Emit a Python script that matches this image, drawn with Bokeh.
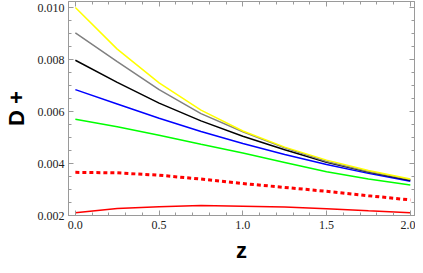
from bokeh.plotting import figure
from bokeh.models import Range1d, FixedTicker, LinearAxis, NumeralTickFormatter
from bokeh.embed import file_html
from bokeh.resources import INLINE

# ---- data ----
z = [0.0, 0.25, 0.5, 0.75, 1.0, 1.25, 1.5, 1.75, 2.0]
d_yellow = [0.01000, 0.00840, 0.00710, 0.00605, 0.00525, 0.00463, 0.00413, 0.00373, 0.00340]
d_gray = [0.00902, 0.00792, 0.00684, 0.00592, 0.00522, 0.00460, 0.00408, 0.00369, 0.00338]
d_black = [0.00797, 0.00712, 0.00632, 0.00564, 0.00505, 0.00453, 0.00405, 0.00367, 0.00336]
d_blue = [0.00684, 0.00629, 0.00574, 0.00523, 0.00477, 0.00435, 0.00396, 0.00362, 0.00332]
d_green = [0.00570, 0.00541, 0.00509, 0.00474, 0.00440, 0.00404, 0.00368, 0.00340, 0.00317]
d_red_dashed = [0.00366, 0.00364, 0.00355, 0.00340, 0.00323, 0.00308, 0.00293, 0.00276, 0.00260]
d_red = [0.00211, 0.00227, 0.00234, 0.00238, 0.00236, 0.00233, 0.00226, 0.00218, 0.00211]

x_major_ticks = [0.0, 0.5, 1.0, 1.5, 2.0]
x_minor_ticks = [round(0.1 * i, 1) for i in range(0, 21)]
y_major_ticks = [0.002, 0.004, 0.006, 0.008, 0.010]
y_minor_ticks = [round(0.002 + 0.0005 * i, 4) for i in range(0, 18)]

x_label = "z"
y_label = "D +"

FRAME = "#9a9a9a"
TICKFONT = "Liberation Serif"

p = figure(width=415, height=265, output_backend="svg", toolbar_location=None,
           x_range=Range1d(-0.041, 2.025), y_range=Range1d(0.002, 0.010231),
           min_border_left=60, min_border_right=1, min_border_top=1, min_border_bottom=48,
           x_axis_location=None, y_axis_location=None)
p.xgrid.visible = False
p.ygrid.visible = False
p.outline_line_color = FRAME
p.background_fill_color = "white"
p.border_fill_color = "white"


def style_axis(ax, ticks, minor, fmt, labels=True):
    ax.ticker = FixedTicker(ticks=ticks, minor_ticks=minor)
    ax.formatter = NumeralTickFormatter(format=fmt)
    ax.axis_line_color = FRAME
    ax.major_tick_line_color = FRAME
    ax.minor_tick_line_color = FRAME
    ax.major_tick_in = 5
    ax.major_tick_out = 0
    ax.minor_tick_in = 3
    ax.minor_tick_out = 0
    if labels:
        ax.major_label_text_font = TICKFONT
        ax.major_label_text_font_size = "12px"
        ax.major_label_text_color = "#222222"
        ax.axis_label_text_font = "Liberation Sans"
        ax.axis_label_text_font_style = "bold"
        ax.axis_label_text_font_size = "22px"
        ax.axis_label_text_color = "black"
    else:
        ax.major_label_overrides = {t: "" for t in ticks}
        ax.major_label_text_font_size = "1px"
        ax.major_label_standoff = 0


xb = LinearAxis(axis_label=x_label)
style_axis(xb, x_major_ticks, x_minor_ticks, "0.0")
xb.major_label_standoff = 5
xb.axis_label_standoff = 6
p.add_layout(xb, "below")

yl = LinearAxis(axis_label=y_label)
style_axis(yl, y_major_ticks, y_minor_ticks, "0.000")
yl.major_label_standoff = 4
yl.axis_label_standoff = 6
p.add_layout(yl, "left")

xt = LinearAxis()
style_axis(xt, x_major_ticks, x_minor_ticks, "0.0", labels=False)
p.add_layout(xt, "above")

yr = LinearAxis()
style_axis(yr, y_major_ticks, y_minor_ticks, "0.000", labels=False)
p.add_layout(yr, "right")

p.line(z, d_red, line_color="#ff0000", line_width=1.5)
p.line(z, d_red_dashed, line_color="#ff0000", line_width=3, line_dash="4 3")
p.line(z, d_green, line_color="#00ff00", line_width=1.5)
p.line(z, d_blue, line_color="#0000ff", line_width=1.5)
p.line(z, d_black, line_color="#000000", line_width=1.5)
p.line(z, d_gray, line_color="#808080", line_width=1.5)
p.line(z, d_yellow, line_color="#ffff00", line_width=1.5)

open("out.html", "w").write(file_html(p, INLINE))
